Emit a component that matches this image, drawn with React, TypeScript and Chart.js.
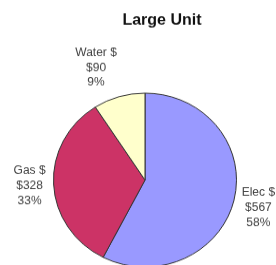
import React, { useEffect, useRef } from "react";
import { Chart, registerables } from "chart.js";

Chart.register(...registerables);

const categories = ["Elec $", "Gas $", "Water $"];
const values = [567, 328, 90];
const sliceColors = ["#9999FF", "#CC3366", "#FFFFCC"];
const titleText = "Large Unit";

const FONT = "Arial, 'Liberation Sans', sans-serif";

const titlePlugin = {
  id: "excelTitle",
  afterDraw(chart: any) {
    const ctx = chart.ctx;
    ctx.save();
    ctx.font = `bold 16px ${FONT}`;
    ctx.fillStyle = "#111111";
    ctx.textAlign = "center";
    ctx.textBaseline = "alphabetic";
    ctx.fillText(titleText, chart.width / 2, 25.5);
    ctx.restore();
  },
};

const labelPlugin = {
  id: "outsideLabels",
  afterDatasetsDraw(chart: any) {
    const ctx = chart.ctx;
    const meta = chart.getDatasetMeta(0);
    const data = chart.data.datasets[0].data as number[];
    const total = data.reduce((a, b) => a + b, 0);
    const lh = 15.8;
    const gap = 8;
    ctx.save();
    ctx.font = `12px ${FONT}`;
    ctx.fillStyle = "#404040";
    ctx.textAlign = "center";
    ctx.textBaseline = "middle";
    meta.data.forEach((arc: any, i: number) => {
      const p = arc.getProps(["x", "y", "startAngle", "endAngle", "outerRadius"], true);
      const mid = (p.startAngle + p.endAngle) / 2;
      const dx = Math.cos(mid);
      const dy = Math.sin(mid);
      const lines = [
        String(chart.data.labels[i]),
        "$" + data[i],
        Math.round((data[i] / total) * 100) + "%",
      ];
      const w = Math.max(...lines.map((l) => ctx.measureText(l).width)) / 2;
      const h = (lines.length * lh) / 2;
      const ax = p.x + dx * (p.outerRadius + gap);
      const ay = p.y + dy * (p.outerRadius + gap);
      const cx = ax + Math.sign(dx) * w;
      const cy = ay + dy * h;
      lines.forEach((l, k) => {
        ctx.fillText(l, cx, cy - h + lh / 2 + k * lh);
      });
    });
    ctx.restore();
  },
};

export default function App() {
  const ref = useRef<HTMLCanvasElement | null>(null);
  useEffect(() => {
    if (!ref.current) return;
    const chart = new Chart(ref.current, {
      type: "pie",
      data: {
        labels: categories,
        datasets: [
          {
            data: values,
            backgroundColor: sliceColors,
            borderColor: "#333333",
            borderWidth: 1,
            radius: 91.5,
            hoverOffset: 0,
          } as any,
        ],
      },
      options: {
        responsive: false,
        animation: false,
        events: [],
        layout: { padding: { left: 0, right: 34, top: 98, bottom: 59 } },
        plugins: {
          legend: { display: false },
          tooltip: { enabled: false },
          title: { display: false },
        },
      },
      plugins: [labelPlugin, titlePlugin],
    });
    return () => chart.destroy();
  }, []);
  return (
    <div
      style={{
        position: "fixed",
        left: 0,
        top: 0,
        width: 276,
        height: 265,
        overflow: "hidden",
        background: "#ffffff",
      }}
    >
      <canvas
        ref={ref}
        width={324}
        height={340}
        style={{ width: 324, height: 323, display: "block" }}
      />
    </div>
  );
}
